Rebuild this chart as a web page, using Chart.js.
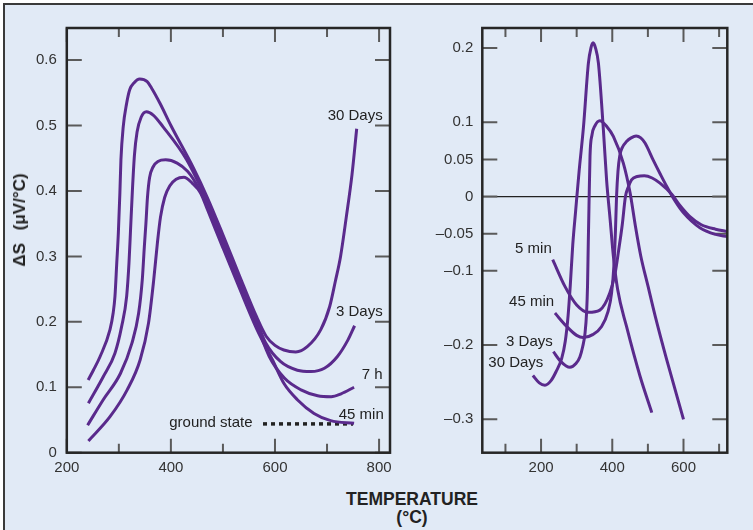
<!DOCTYPE html>
<html><head><meta charset="utf-8">
<script src="https://cdn.jsdelivr.net/npm/chart.js@4.4.0/dist/chart.umd.min.js"></script>
<style>
html,body{margin:0;padding:0;background:#fff;overflow:hidden;width:753px;height:530px;}
#bg{position:absolute;left:3px;top:3px;width:760px;height:540px;border:2px solid #3a3a3a;background:#e1eaf6;}
canvas{position:absolute;top:0;}
#c1{left:0px;} #c2{left:400px;}
.t{position:absolute;font-family:"Liberation Sans",Arial,Helvetica,sans-serif;font-weight:bold;color:#222;white-space:nowrap;}
#xt{left:312px;width:200px;text-align:center;top:490px;font-size:17.5px;line-height:18px;}
#yt{left:20px;top:220px;transform:translate(-50%,-50%) rotate(-90deg);font-size:17px;word-spacing:8px;}
</style></head>
<body>
<div id="bg"></div>
<canvas id="c1" width="400" height="480"></canvas>
<canvas id="c2" width="353" height="480"></canvas>
<div class="t" id="xt">TEMPERATURE<br>(°C)</div>
<div class="t" id="yt">ΔS (μV/°C)</div>
<script>
// ---------- Left panel data ----------
const leftXTicks = [200, 400, 600, 800];
const leftXMinor = [300, 500, 700];
const leftYTicks = [0, 0.1, 0.2, 0.3, 0.4, 0.5, 0.6];
const leftYLabels = ['0', '0.1', '0.2', '0.3', '0.4', '0.5', '0.6'];

const l30dX = [241, 251, 264, 283, 289, 292.5, 296, 299, 302, 304, 308.4, 315, 321, 329, 340, 354.5, 363, 379, 400, 444, 470, 500, 532, 565, 583, 600, 617, 640, 662, 688, 705, 716, 726, 737, 748, 757];
const l30dY = [0.111, 0.126, 0.147, 0.188, 0.213, 0.2385, 0.29, 0.335, 0.397, 0.4475, 0.498, 0.534, 0.555, 0.565, 0.571, 0.567, 0.557, 0.534, 0.50, 0.434, 0.390, 0.333, 0.270, 0.207, 0.178, 0.164, 0.157, 0.154, 0.162, 0.188, 0.223, 0.262, 0.300, 0.360, 0.425, 0.495];

const l3dX = [241.5, 270, 292.5, 305.4, 315, 319.5, 322.5, 326, 330, 335, 343, 353, 366, 385, 430, 470, 500, 532, 565, 582, 611, 643, 669, 695, 720, 740, 753];
const l3dY = [0.0755, 0.116, 0.152, 0.193, 0.239, 0.29, 0.341, 0.40, 0.455, 0.49, 0.513, 0.521, 0.516, 0.498, 0.448, 0.383, 0.325, 0.263, 0.201, 0.168, 0.139, 0.126, 0.124, 0.129, 0.147, 0.172, 0.194];

const l7hX = [240, 270, 303, 325, 338, 345, 349, 352, 355, 359, 366, 375, 390, 412, 432, 444, 470, 500, 532, 565, 589, 618, 650, 682, 708, 727, 752];
const l7hY = [0.042, 0.081, 0.121, 0.167, 0.213, 0.264, 0.315, 0.35, 0.39, 0.42, 0.437, 0.445, 0.4475, 0.4425, 0.43, 0.417, 0.377, 0.319, 0.257, 0.195, 0.147, 0.114, 0.096, 0.087, 0.0856, 0.090, 0.100];

const l45mX = [241.5, 283, 316, 341, 357, 367, 374, 380, 388, 398, 410, 425, 441, 457, 470, 500, 532, 565, 595, 617, 643, 675, 707, 752];
const l45mY = [0.018, 0.055, 0.096, 0.142, 0.198, 0.264, 0.32, 0.36, 0.39, 0.408, 0.418, 0.421, 0.412, 0.397, 0.372, 0.313, 0.251, 0.189, 0.142, 0.106, 0.081, 0.060, 0.049, 0.045];

const groundX = [577, 750];
const groundY = [0.044, 0.044];

const leftNotes = [
  {text: '30 Days', x: 807, y: 0.515},
  {text: '3 Days', x: 807, y: 0.2147},
  {text: '7 h', x: 807, y: 0.119},
  {text: '45 min', x: 809, y: 0.0576},
  {text: 'ground state', x: 557, y: 0.045}
];

// ---------- Right panel data ----------
const rightXTicks = [200, 400, 600];
const rightXMinor = [100, 300, 500, 700];
const rightYTicks = [0.2, 0.1, 0.05, 0, -0.05, -0.1, -0.2, -0.3];
const rightYLabels = ['0.2', '0.1', '0.05', '0', '\u20130.05', '\u20130.1', '\u20130.2', '\u20130.3'];

const r5mX = [232.7, 267, 300, 333, 365, 393, 408, 418, 428, 437, 445, 454, 470, 490, 512, 534, 567, 590, 618, 650, 690, 723];
const r5mY = [-0.085, -0.121, -0.146, -0.156, -0.153, -0.13, -0.103, -0.072, -0.038, 0, 0.013, 0.0225, 0.027, 0.028, 0.025, 0.018, 0.003, -0.012, -0.027, -0.038, -0.044, -0.047];

const r45mX = [239, 272, 300, 318, 345, 370, 388, 398, 405, 409, 412, 416, 421, 428, 440, 453, 467, 480, 492, 515, 535, 553, 575, 600, 646, 690, 723];
const r45mY = [-0.157, -0.175, -0.187, -0.19, -0.186, -0.175, -0.155, -0.13, -0.09, -0.045, 0, 0.034, 0.055, 0.066, 0.074, 0.079, 0.0815, 0.079, 0.072, 0.049, 0.03, 0.0135, -0.005, -0.022, -0.042, -0.051, -0.054];

const r3dX = [234.6, 255, 281, 298, 309, 317, 323.5, 328, 330.5, 332.7, 334.5, 337.5, 343, 351, 365, 385, 403, 431, 450, 465, 480, 500, 520, 553, 600];
const r3dY = [-0.209, -0.222, -0.23, -0.225, -0.216, -0.202, -0.184, -0.155, -0.12, -0.06, -0.015, 0.055, 0.083, 0.095, 0.102, 0.094, 0.081, 0.045, 0.005, -0.04, -0.08, -0.12, -0.16, -0.22, -0.30];

const r30dX = [177, 195, 211, 228, 242, 258, 268, 276, 282, 289, 297, 307, 319, 333, 340, 346, 353, 361, 375, 384, 394, 403, 415, 440, 478, 511];
const r30dY = [-0.241, -0.251, -0.254, -0.248, -0.236, -0.218, -0.195, -0.16, -0.12, -0.065, -0.02, 0.035, 0.093, 0.18, 0.2, 0.207, 0.2, 0.18, 0.09, 0.0225, -0.031, -0.08, -0.125, -0.175, -0.242, -0.291];

const rightNotes = [
  {text: '5 min', x: 230, y: -0.0709},
  {text: '45 min', x: 236.5, y: -0.1423},
  {text: '3 Days', x: 232.8, y: -0.1954},
  {text: '30 Days', x: 206.4, y: -0.2245}
];

// ---------- helpers ----------
const FONT = '"Liberation Sans", Arial, Helvetica, sans-serif';
const PURPLE = '#5a2a8c';
const pts = (xs, ys) => xs.map((x, i) => ({x, y: ys[i]}));
const curve = (xs, ys) => ({
  data: pts(xs, ys), borderColor: PURPLE, borderWidth: 3, pointRadius: 0,
  cubicInterpolationMode: 'monotone', fill: false, borderCapStyle: 'butt'
});

function makeDecor(cfg) {
  return {
    id: 'decor',
    beforeDatasetsDraw(chart) {
      const {ctx, chartArea: a, scales: {x, y}} = chart;
      ctx.save();
      if (cfg.zeroLine) {
        const py = y.getPixelForValue(0);
        ctx.strokeStyle = '#222'; ctx.lineWidth = 1.2;
        ctx.beginPath(); ctx.moveTo(a.left, py); ctx.lineTo(a.right, py); ctx.stroke();
      }
      ctx.strokeStyle = '#5a5a5a'; ctx.lineWidth = 2;
      ctx.beginPath();
      const xt = (vals, len) => vals.forEach(v => {
        const px = x.getPixelForValue(v);
        ctx.moveTo(px, a.bottom); ctx.lineTo(px, a.bottom - len);
        ctx.moveTo(px, a.top); ctx.lineTo(px, a.top + len);
      });
      xt(cfg.xMajor, 14); xt(cfg.xMinor, 9);
      cfg.yTicks.forEach(v => {
        const py = y.getPixelForValue(v);
        ctx.moveTo(a.left, py); ctx.lineTo(a.left + 15, py);
        ctx.moveTo(a.right, py); ctx.lineTo(a.right - 15, py);
      });
      ctx.stroke();
      ctx.restore();
    },
    afterDatasetsDraw(chart) {
      const {ctx, chartArea: a, scales: {x, y}} = chart;
      ctx.save();
      ctx.strokeStyle = '#262626'; ctx.lineWidth = 2.5;
      ctx.strokeRect(a.left, a.top, a.right - a.left, a.bottom - a.top);
      ctx.fillStyle = '#222'; ctx.font = '15px ' + FONT;
      ctx.textAlign = 'right'; ctx.textBaseline = 'middle';
      cfg.notes.forEach(n => ctx.fillText(n.text, x.getPixelForValue(n.x), y.getPixelForValue(n.y)));
      ctx.restore();
    }
  };
}

function makeChart(id, o) {
  return new Chart(document.getElementById(id), {
    type: 'line',
    data: {datasets: o.datasets},
    plugins: [makeDecor(o)],
    options: {
      responsive: false, animation: false, devicePixelRatio: 1,
      layout: {padding: {left: 0, top: 28, right: o.padRight, bottom: 0}},
      plugins: {legend: {display: false}, tooltip: {enabled: false}},
      scales: {
        x: {
          type: 'linear', min: o.xMin, max: o.xMax,
          afterBuildTicks: s => { s.ticks = o.xMajor.map(v => ({value: v})); },
          afterFit: s => { s.height = 27.3; },
          grid: {display: false, drawTicks: false}, border: {display: false},
          ticks: {font: {family: FONT, size: 15}, color: '#333', padding: 6, autoSkip: false, maxRotation: 0,
                  callback: v => String(v)}
        },
        y: {
          type: 'linear', min: o.yMin, max: o.yMax,
          afterBuildTicks: s => { s.ticks = o.yTicks.map(v => ({value: v})); },
          afterFit: s => { s.width = o.yWidth; },
          grid: {display: false, drawTicks: false}, border: {display: false},
          ticks: {font: {family: FONT, size: 15}, color: '#333', padding: o.yPad, autoSkip: false,
                  callback: v => o.yLabels[o.yTicks.findIndex(t => Math.abs(t - v) < 1e-9)]}
        }
      }
    }
  });
}

const groundSet = {
  data: pts(groundX, groundY), borderColor: '#222', borderWidth: 3.5, borderDash: [4, 4],
  pointRadius: 0, fill: false, borderCapStyle: 'butt'
};

makeChart('c1', {
  datasets: [curve(l30dX, l30dY), curve(l3dX, l3dY), curve(l7hX, l7hY), curve(l45mX, l45mY), groundSet],
  xMin: 200, xMax: 821, yMin: 0, yMax: 0.649,
  xMajor: leftXTicks, xMinor: leftXMinor, yTicks: leftYTicks, yLabels: leftYLabels,
  notes: leftNotes, padRight: 10, yWidth: 66.8, yPad: 10, zeroLine: false
});

makeChart('c2', {
  datasets: [curve(r5mX, r5mY), curve(r45mX, r45mY), curve(r3dX, r3dY), curve(r30dX, r30dY)],
  xMin: 35, xMax: 723, yMin: -0.345, yMax: 0.227,
  xMajor: rightXTicks, xMinor: rightXMinor, yTicks: rightYTicks, yLabels: rightYLabels,
  notes: rightNotes, padRight: 25.7, yWidth: 82.3, yPad: 9, zeroLine: true
});
</script>
</body></html>
